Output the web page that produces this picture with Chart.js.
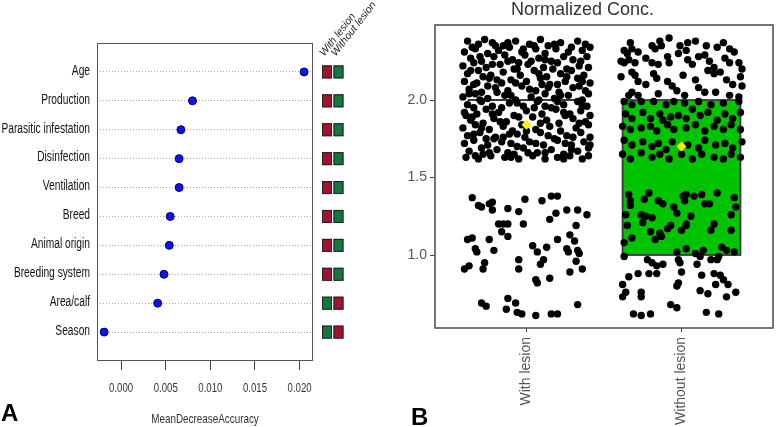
<!DOCTYPE html>
<html>
<head>
<meta charset="utf-8">
<script src="https://cdn.jsdelivr.net/npm/chart.js@4.4.0/dist/chart.umd.min.js"></script>
<style>
  body { margin: 0; background: #fff; width: 778px; height: 427px; position: relative; overflow: hidden; }
  .panel { position: absolute; top: 0; }
  .tag { position: absolute; font: bold 24px 'Liberation Sans', Arial, sans-serif; color: #000; line-height: 28px; }
</style>
</head>
<body>
<div class="panel" style="left:0"><canvas id="chartA" width="390" height="427"></canvas></div>
<div class="panel" style="left:390px"><canvas id="chartB" width="388" height="427"></canvas></div>
<div class="tag" style="left:1px;top:399px">A</div>
<div class="tag" style="left:411px;top:403px">B</div>
<script>
// ---- panel A : variable importance ----
const variables = ['Age', 'Production', 'Parasitic infestation', 'Disinfection', 'Ventilation',
  'Breed', 'Animal origin', 'Breeding system', 'Area/calf', 'Season'];
const meanDecreaseAccuracy = [0.0205, 0.0080, 0.0067, 0.0065, 0.0065, 0.0055, 0.0054, 0.0048, 0.0041, -0.0019];
const accuracyTicks = [0.000, 0.005, 0.010, 0.015, 0.020];
const classColumns = ['With lesion', 'Without lesion'];
// colour of each class cell per variable (R = red, G = green)
const withLesionCell = ['R', 'R', 'R', 'R', 'R', 'R', 'R', 'R', 'G', 'G'];
const withoutLesionCell = ['G', 'G', 'G', 'G', 'G', 'G', 'G', 'G', 'R', 'R'];

// ---- panel B : normalized concentration ----
const groups = ['With lesion', 'Without lesion'];
const concTicks = [1.0, 1.5, 2.0];
const boxLower = [2.0, 1.0];
const boxUpper = [2.0, 2.0];
const boxFill = ['#ffffff', '#00c300'];
const groupMeans = [1.84, 1.70];
// [jitter, value]
const withLesionPts = [
  [-0.38,2.38],[-0.31,2.36],[-0.22,2.37],[-0.15,2.35],[-0.07,2.38],[0.02,2.36],[0.09,2.39],[0.14,2.35],[0.22,2.37],[0.33,2.38],[0.38,2.36],[-0.27,2.39],[0.05,2.35],
  [-0.4,2.31],[-0.33,2.33],[-0.25,2.3],[-0.18,2.32],[-0.11,2.34],[-0.03,2.31],[0.06,2.33],[0.12,2.3],[0.19,2.33],[0.27,2.31],[0.36,2.32],[0.41,2.34],[-0.2,2.35],
  [-0.36,2.27],[-0.29,2.25],[-0.21,2.28],[-0.09,2.26],[-0.01,2.29],[0.08,2.27],[0.16,2.25],[0.24,2.28],[0.3,2.26],[0.39,2.28],[-0.14,2.29],[0.03,2.25],
  [-0.41,2.22],[-0.34,2.24],[-0.26,2.21],[-0.17,2.23],[-0.06,2.2],[0.01,2.23],[0.11,2.21],[0.2,2.24],[0.26,2.2],[0.34,2.22],[0.4,2.21],[-0.12,2.25],
  [-0.38,2.17],[-0.31,2.19],[-0.23,2.16],[-0.15,2.18],[-0.04,2.16],[0.05,2.19],[0.13,2.15],[0.22,2.17],[0.29,2.19],[0.37,2.16],[-0.08,2.2],[0.17,2.2],
  [-0.4,2.12],[-0.32,2.11],[-0.24,2.14],[-0.16,2.11],[-0.1,2.13],[0.0,2.12],[0.09,2.14],[0.15,2.1],[0.25,2.12],[0.33,2.14],[0.41,2.11],[-0.28,2.15],
  [-0.37,2.07],[-0.29,2.05],[-0.2,2.08],[-0.12,2.06],[-0.03,2.09],[0.06,2.06],[0.14,2.08],[0.21,2.05],[0.3,2.08],[0.38,2.06],[-0.34,2.1],[0.1,2.1],
  [-0.41,2.02],[-0.33,2.04],[-0.25,2.01],[-0.14,2.03],[-0.07,2.0],[0.03,2.02],[0.12,2.04],[0.18,2.01],[0.27,2.03],[0.36,2.0],[-0.19,2.05],[0.4,2.04],
  [-0.38,1.97],[-0.29,1.99],[-0.22,1.96],[-0.11,1.98],[-0.02,1.96],[0.07,1.99],[0.16,1.95],[0.24,1.97],[0.33,1.99],[0.39,1.96],[-0.16,1.95],
  [-0.4,1.92],[-0.32,1.91],[-0.26,1.94],[-0.18,1.92],[-0.08,1.9],[0.0,1.93],[0.1,1.91],[0.19,1.94],[0.28,1.91],[0.35,1.93],[0.05,1.95],
  [-0.36,1.87],[-0.28,1.85],[-0.21,1.88],[-0.13,1.86],[-0.05,1.89],[0.13,1.87],[0.21,1.85],[0.3,1.88],[0.38,1.86],[-0.39,1.9],[0.25,1.9],
  [-0.41,1.82],[-0.33,1.84],[-0.24,1.81],[-0.15,1.83],[-0.09,1.8],[0.06,1.81],[0.15,1.83],[0.22,1.8],[0.32,1.82],[0.4,1.84],[-0.03,1.84],
  [-0.38,1.77],[-0.3,1.79],[-0.2,1.76],[-0.11,1.78],[-0.01,1.76],[0.09,1.79],[0.18,1.75],[0.26,1.77],[0.35,1.79],[0.41,1.76],[-0.26,1.75],
  [-0.4,1.72],[-0.34,1.74],[-0.25,1.71],[-0.16,1.73],[-0.06,1.7],[0.02,1.73],[0.11,1.71],[0.2,1.74],[0.29,1.71],[0.37,1.73],[-0.21,1.75],
  [-0.37,1.67],[-0.28,1.65],[-0.19,1.68],[-0.12,1.66],[-0.02,1.69],[0.07,1.66],[0.16,1.68],[0.24,1.65],[0.33,1.67],[0.4,1.69],[-0.08,1.65],
  [-0.39,1.63],[-0.31,1.62],[-0.23,1.64],[-0.14,1.63],[-0.05,1.62],[0.04,1.64],[0.12,1.62],[0.2,1.63],[0.28,1.64],[0.36,1.62],
  [-0.35,2.34],[-0.12,2.37],[0.18,2.36],[0.29,2.34],[-0.02,2.33],[-0.3,2.28],[-0.05,2.24],[0.12,2.26],[0.35,2.25],[-0.22,2.23],
  [-0.36,2.19],[0.08,2.17],[0.26,2.15],[-0.19,2.13],[0.36,2.12],[-0.07,2.11],[0.2,2.1],[-0.25,2.09],[0.02,2.07],[0.34,2.09],
  [-0.37,2.04],[-0.1,2.03],[0.22,2.03],[0.08,2.0],[-0.3,2.0],[-0.34,1.95],[-0.06,1.98],[0.2,1.99],[0.12,1.96],[0.36,1.96],
  [-0.22,1.91],[0.04,1.89],[0.24,1.92],[-0.35,1.89],[0.41,1.9],[-0.17,1.86],[0.09,1.85],[0.34,1.85],[-0.29,1.82],[0.0,1.8],
  [-0.06,1.78],[0.14,1.77],[0.3,1.76],[-0.34,1.78],[-0.15,1.76],[0.06,1.72],[0.25,1.72],[-0.29,1.69],[-0.1,1.72],[0.41,1.71],
  [-0.24,1.66],[0.12,1.66],[0.29,1.68],[-0.33,1.64],[0.01,1.66],[0.24,1.62],[-0.1,1.63],[0.4,1.64],
  // lower band
  [-0.35,1.37],[-0.31,1.32],[-0.29,1.31],[-0.24,1.33],[-0.22,1.34],[-0.22,1.29],[-0.12,1.30],[-0.01,1.36],[-0.05,1.28],[0.10,1.35],
  [0.16,1.38],[0.20,1.38],[0.19,1.27],[0.15,1.23],[0.26,1.29],[0.33,1.29],[0.39,1.26],[0.32,1.19],[-0.18,1.20],[-0.15,1.20],
  [-0.12,1.20],[-0.16,1.15],[-0.12,1.12],[-0.02,1.20],[-0.38,1.10],[-0.35,1.11],[-0.24,1.10],[-0.33,1.04],[-0.32,1.02],[-0.21,1.03],
  [0.04,1.06],[0.07,1.02],[0.13,1.05],[0.20,1.10],[0.28,1.13],[0.31,1.09],[0.26,1.04],[0.27,1.02],[0.33,1.03],[0.34,1.01],
  [-0.05,0.97],[-0.05,0.91],[0.11,0.97],[0.09,0.94],[0.32,0.96],[0.36,0.91],[0.28,0.89],[-0.40,0.91],[-0.37,0.93],[-0.28,0.91],
  [-0.27,0.95],[0.06,0.84],[0.07,0.82],[0.15,0.85],[-0.29,0.69],[-0.26,0.67],[-0.12,0.72],[-0.07,0.69],[-0.13,0.65],[-0.06,0.63],
  [-0.03,0.62],[0.06,0.61],[0.16,0.62],[0.20,0.62],[0.33,0.68]
];
const withoutLesionPts = [
  [-0.08,2.40],[-0.14,2.38],[-0.13,2.35],[-0.19,2.35],[-0.17,2.33],[-0.33,2.37],[-0.32,2.33],[-0.37,2.32],[-0.35,2.30],[-0.28,2.31],
  [-0.01,2.35],[0.04,2.37],[0.09,2.38],[-0.02,2.30],[0.03,2.32],[0.16,2.35],[0.23,2.34],[0.27,2.37],[0.31,2.33],[0.34,2.31],
  [-0.39,2.25],[-0.37,2.24],[-0.34,2.26],[-0.30,2.24],[-0.23,2.27],[-0.19,2.24],[-0.15,2.23],[-0.09,2.28],[-0.08,2.24],[0.04,2.26],
  [0.07,2.23],[0.11,2.28],[0.15,2.29],[0.18,2.25],[0.21,2.21],[0.28,2.27],[0.31,2.24],[0.37,2.24],[0.39,2.20],[-0.39,2.15],
  [-0.32,2.18],[-0.30,2.16],[-0.18,2.17],[-0.16,2.14],[-0.09,2.12],[-0.06,2.09],[-0.03,2.06],[0.01,2.16],[0.09,2.13],[0.11,2.08],
  [0.17,2.19],[0.21,2.17],[0.25,2.18],[0.29,2.13],[0.33,2.10],[0.38,2.15],[0.39,2.09],[-0.28,2.12],[-0.23,2.10],[-0.34,2.03],
  [-0.32,2.05],[-0.28,2.03],[-0.15,2.04],[0.02,2.03],[0.15,2.05],[0.22,2.05],[0.31,2.03],[0.37,2.02],
  [-0.37,1.99],[-0.32,1.97],[-0.26,1.99],[-0.18,1.99],[-0.10,1.97],[-0.05,1.99],[0.02,1.98],[0.11,1.99],[0.19,1.97],[0.27,1.98],
  [0.37,1.99],[-0.36,1.91],[-0.32,1.88],[-0.25,1.92],[-0.20,1.88],[-0.14,1.91],[-0.12,1.87],[-0.07,1.89],[-0.02,1.90],[0.03,1.88],
  [0.07,1.94],[0.12,1.90],[0.17,1.92],[0.23,1.87],[0.28,1.91],[0.33,1.88],[0.38,1.92],[-0.38,1.83],[-0.33,1.81],[-0.26,1.82],
  [-0.20,1.83],[-0.16,1.80],[-0.09,1.84],[-0.05,1.81],[0.03,1.82],[0.09,1.84],[0.15,1.80],[0.21,1.83],[0.27,1.81],[0.32,1.84],
  [0.38,1.81],[-0.37,1.74],[-0.32,1.71],[-0.25,1.73],[-0.19,1.70],[-0.15,1.72],[-0.10,1.68],[-0.06,1.73],[0.04,1.71],[0.11,1.69],
  [0.15,1.74],[0.22,1.71],[0.28,1.72],[0.33,1.69],[0.39,1.73],[-0.38,1.65],[-0.33,1.62],[-0.26,1.66],[-0.19,1.63],[-0.14,1.65],
  [-0.08,1.62],[0.00,1.65],[0.07,1.62],[0.13,1.65],[0.21,1.63],[0.27,1.62],[0.32,1.65],[0.38,1.63],
  // lower band
  [-0.34,1.39],[-0.33,1.35],[-0.33,1.32],[-0.21,1.40],[-0.24,1.36],[-0.15,1.35],[-0.12,1.33],[0.01,1.38],[0.03,1.39],[0.08,1.38],
  [0.02,1.35],[0.13,1.39],[0.15,1.33],[0.18,1.33],[0.23,1.40],[0.34,1.37],[0.35,1.31],[-0.36,1.26],[-0.35,1.19],[-0.26,1.26],
  [-0.23,1.25],[-0.19,1.24],[-0.25,1.21],[-0.05,1.31],[-0.03,1.27],[0.06,1.25],[0.03,1.20],[0.21,1.20],[0.19,1.16],[0.32,1.26],
  [0.32,1.16],[-0.20,1.15],[-0.14,1.14],[-0.09,1.17],[-0.07,1.19],[0.00,1.16],[0.03,1.19],[-0.32,1.11],[-0.37,1.08],[-0.17,1.10],
  [-0.13,1.12],[-0.03,1.02],[0.03,1.04],[0.09,1.01],[0.14,1.03],[0.26,1.05],[0.29,1.03],[0.34,1.02],[-0.37,0.99],[-0.22,0.97],
  [-0.19,0.95],[-0.16,0.93],[-0.12,0.94],[-0.02,0.97],[-0.01,0.95],[0.10,0.94],[0.12,0.99],[0.19,0.97],[0.23,0.97],[0.24,0.99],
  [-0.34,0.86],[-0.28,0.88],[-0.21,0.88],[-0.16,0.88],[0.00,0.89],[0.13,0.87],[0.21,0.88],[0.25,0.87],[0.27,0.84],[0.30,0.81],
  [0.22,0.81],[-0.38,0.81],[-0.36,0.76],[-0.38,0.73],[-0.26,0.76],[-0.26,0.73],[-0.02,0.82],[-0.03,0.80],[0.12,0.77],[0.17,0.75],
  [0.29,0.73],[0.35,0.76],[-0.07,0.68],[-0.03,0.66],[-0.31,0.62],[-0.26,0.61],[-0.20,0.62],[0.16,0.63],[0.24,0.62]
];
const boxHalf = 0.38;

const SANS = "'Liberation Sans', Arial, sans-serif";

// condensed text (the original uses a narrow face)
function narrowText(ctx, text, x, y, align, size, color, squeeze) {
  ctx.save();
  ctx.font = size + 'px ' + SANS;
  ctx.fillStyle = color;
  ctx.textAlign = align;
  ctx.textBaseline = 'middle';
  ctx.translate(x, y);
  ctx.scale(squeeze, 1);
  ctx.fillText(text, 0, 0);
  ctx.restore();
}

// frame, labels and class colour cells for panel A
const frameA = {
  id: 'frameA',
  afterDraw(chart) {
    const { ctx, chartArea: a, scales: { x, y } } = chart;
    ctx.save();
    ctx.strokeStyle = '#555';
    ctx.lineWidth = 1;
    ctx.strokeRect(a.left + 0.5, a.top + 0.5, a.width - 1, a.height - 1);
    variables.forEach((v, i) => narrowText(ctx, v, a.left - 7, y.getPixelForValue(i + 1) - 1, 'right', 14, '#111', 0.73));
    accuracyTicks.forEach(t => narrowText(ctx, t.toFixed(3), x.getPixelForValue(t), a.bottom + 27, 'center', 13, '#333', 0.74));
    narrowText(ctx, 'MeanDecreaseAccuracy', (a.left + a.right) / 2, 419, 'center', 13, '#333', 0.76);
    [withLesionCell, withoutLesionCell].forEach((col, c) => {
      const x0 = a.right + 9 + c * 11.5;
      col.forEach((k, i) => {
        const yc = y.getPixelForValue(i + 1);
        ctx.fillStyle = k === 'R' ? '#a3122f' : '#12783d';
        ctx.fillRect(x0, yc - 6.5, 10, 13);
        ctx.strokeStyle = '#222';
        ctx.strokeRect(x0 + 0.5, yc - 6, 9, 12);
      });
      ctx.save();
      ctx.translate(x0, a.top + 12);
      ctx.rotate(-52 * Math.PI / 180);
      ctx.font = 'italic 10.5px ' + SANS;
      ctx.fillStyle = '#222';
      ctx.textBaseline = 'middle';
      ctx.fillText(classColumns[c], 0, 0);
      ctx.restore();
    });
    ctx.restore();
  }
};

// boxes and frame for panel B
const boxesB = {
  id: 'boxesB',
  beforeDatasetsDraw(chart) {
    const { ctx, scales: { x, y } } = chart;
    ctx.save();
    groups.forEach((g, i) => {
      const l = x.getPixelForValue(i + 1 - boxHalf), r = x.getPixelForValue(i + 1 + boxHalf);
      const t = y.getPixelForValue(boxUpper[i]), b = y.getPixelForValue(boxLower[i]);
      ctx.fillStyle = boxFill[i];
      ctx.fillRect(l, t, r - l, b - t);
      ctx.strokeStyle = '#3a3a3a';
      ctx.lineWidth = 1.8;
      ctx.strokeRect(l, t, r - l, b - t);
    });
    ctx.restore();
  },
  afterDraw(chart) {
    const { ctx, chartArea: a } = chart;
    ctx.save();
    ctx.strokeStyle = '#555';
    ctx.lineWidth = 1.6;
    ctx.strokeRect(a.left, a.top, a.width, a.height);
    ctx.restore();
  }
};

new Chart(document.getElementById('chartA'), {
  type: 'scatter',
  data: {
    datasets: [{
      data: variables.map((v, i) => ({ x: meanDecreaseAccuracy[i], y: i + 1 })),
      backgroundColor: '#0b14ee',
      borderColor: '#000070',
      borderWidth: 1,
      pointRadius: 4
    }]
  },
  options: {
    responsive: false,
    animation: false,
    layout: { padding: { top: 43, right: 77, left: 0, bottom: 0 } },
    plugins: { legend: { display: false }, tooltip: { enabled: false } },
    scales: {
      x: {
        type: 'linear', min: -0.0027, max: 0.0215,
        afterBuildTicks: s => { s.ticks = accuracyTicks.map(v => ({ value: v })); },
        afterFit: s => { s.height = 66; },
        grid: { drawOnChartArea: false, tickLength: 9, tickColor: '#444' },
        border: { display: false },
        ticks: { display: false }
      },
      y: {
        type: 'linear', reverse: true, min: 0, max: 11,
        afterBuildTicks: s => { s.ticks = variables.map((v, i) => ({ value: i + 1 })); },
        afterFit: s => { s.width = 97; },
        grid: { color: '#b0b0b0', lineWidth: 1, drawTicks: false },
        border: { display: false, dash: [1, 2] },
        ticks: { display: false }
      }
    }
  },
  plugins: [frameA]
});

const allPts = [withLesionPts, withoutLesionPts];
new Chart(document.getElementById('chartB'), {
  type: 'scatter',
  data: {
    datasets: [
      {
        data: groupMeans.map((m, i) => ({ x: i + 1, y: m })),
        pointStyle: 'rectRot', pointRadius: 5, backgroundColor: '#ffee00', borderWidth: 0
      },
      {
        data: allPts.flatMap((pts, g) => pts.map(p => ({ x: g + 1 + p[0], y: p[1] }))),
        pointRadius: 3.7, backgroundColor: '#000', borderWidth: 0
      }
    ]
  },
  options: {
    responsive: false,
    animation: false,
    layout: { padding: { top: 0, right: 3, left: 0, bottom: 0 } },
    plugins: {
      legend: { display: false }, tooltip: { enabled: false },
      title: { display: true, text: 'Normalized Conc.', color: '#333', font: { family: SANS, size: 18, weight: 'normal', lineHeight: 1 }, padding: { top: 1, bottom: 6 } }
    },
    scales: {
      x: {
        type: 'linear', min: 0.41, max: 2.59,
        afterBuildTicks: s => { s.ticks = groups.map((g, i) => ({ value: i + 1 })); },
        afterFit: s => { s.height = 99; },
        grid: { drawOnChartArea: false, tickLength: 4, tickColor: '#444' },
        border: { display: false },
        ticks: { padding: 5, color: '#555', minRotation: 90, maxRotation: 90, autoSkip: false, font: { family: SANS, size: 14 }, callback: (v, i) => groups[i] }
      },
      y: {
        type: 'linear', min: 0.529, max: 2.484,
        afterBuildTicks: s => { s.ticks = concTicks.map(v => ({ value: v })); },
        afterFit: s => { s.width = 45; },
        grid: { drawOnChartArea: false, tickLength: 5, tickColor: '#444' },
        border: { display: false },
        ticks: { padding: 3, color: '#555', font: { family: SANS, size: 14 }, callback: v => v.toFixed(1) }
      }
    }
  },
  plugins: [boxesB]
});
</script>
</body>
</html>
